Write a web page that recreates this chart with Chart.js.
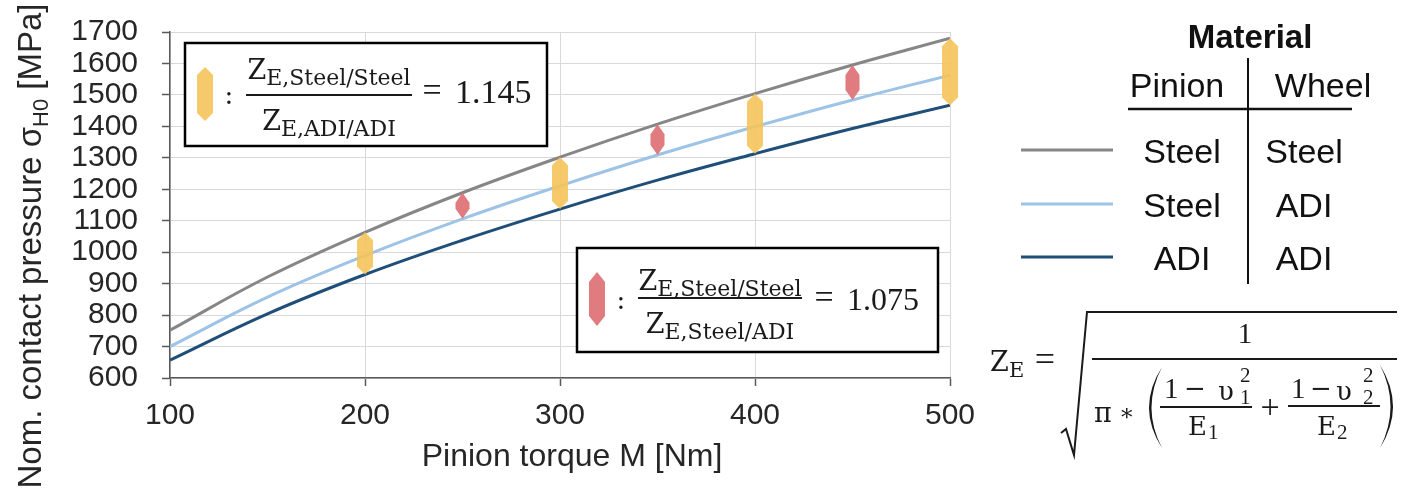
<!DOCTYPE html>
<html>
<head>
<meta charset="utf-8">
<script src="https://cdn.jsdelivr.net/npm/chart.js@4.4.0/dist/chart.umd.min.js"></script>
<style>
  html, body { margin: 0; padding: 0; background: #fff; }
  #wrap { width: 1414px; height: 493px; }
</style>
</head>
<body>
<div id="wrap"><canvas id="grafico" width="1414" height="493"></canvas></div>
<script>
// Values
const torque = [100, 150, 200, 250, 300, 350, 400, 450, 500]
const steel_steel = [752, 921, 1063, 1189, 1302, 1407, 1504, 1595, 1680]
const steel_adi = [700, 857, 989, 1106, 1211, 1309, 1399, 1484, 1563]
const adi_adi = [657, 804, 929, 1038, 1137, 1229, 1313, 1393, 1467]

// Ratio markers (yellow = 1.145, red = 1.075)
const yellow_torque = [200, 300, 400, 500]
const yellow_low = [929, 1137, 1313, 1467]
const yellow_high = [1063, 1302, 1504, 1680]
const red_torque = [250, 350, 450]
const red_low = [1106, 1309, 1484]
const red_high = [1189, 1407, 1595]

const pinion = ["Steel", "Steel", "ADI"]
const wheel = ["Steel", "ADI", "ADI"]

const line_colors = ["#868686", "#9dc3e6", "#1f4e79"]
const yellow = "rgba(245, 196, 90, 0.9)"
const red = "rgba(222, 116, 120, 0.95)"
const ink = "#1a1a1a"

const toPoints = (xs, ys) => xs.map((x, i) => ({ x: x, y: ys[i] }))
const toRanges = (xs, lo, hi) => xs.map((x, i) => ({ x: x, y: [lo[i], hi[i]] }))

const lineSet = (values, i) => ({
    type: "line",
    data: toPoints(torque, values),
    borderColor: line_colors[i],
    borderWidth: 3,
    pointRadius: 0,
    tension: 0.4,
    fill: false,
    order: 2
})

const markerSet = (xs, lo, hi, color, w, cap) => ({
    type: "bar",
    data: toRanges(xs, lo, hi),
    backgroundColor: "rgba(0,0,0,0)",
    borderWidth: 0,
    barThickness: w,
    grouped: false,
    hexColor: color,
    hexCap: cap,
    order: 1
})

// Helpers
function hexagon(ctx, x, top, bottom, w, cap, color) {
    ctx.save()
    ctx.fillStyle = color
    ctx.beginPath()
    ctx.moveTo(x, top)
    ctx.lineTo(x + w / 2, top + cap)
    ctx.lineTo(x + w / 2, bottom - cap)
    ctx.lineTo(x, bottom)
    ctx.lineTo(x - w / 2, bottom - cap)
    ctx.lineTo(x - w / 2, top + cap)
    ctx.closePath()
    ctx.fill()
    ctx.restore()
}

function txt(ctx, s, x, y, font, align) {
    ctx.font = font
    ctx.textAlign = align || "left"
    ctx.textBaseline = "alphabetic"
    ctx.fillText(s, x, y)
}

// parts: [text, font, dy]
function runs(ctx, parts, x, y, align) {
    let w = 0
    parts.forEach(p => { ctx.font = p[1]; w += ctx.measureText(p[0]).width })
    let cx = align === "center" ? x - w / 2 : (align === "right" ? x - w : x)
    ctx.textAlign = "left"
    ctx.textBaseline = "alphabetic"
    parts.forEach(p => {
        ctx.font = p[1]
        ctx.fillText(p[0], cx, y + (p[2] || 0))
        cx += ctx.measureText(p[0]).width
    })
    return w
}

function hline(ctx, x1, x2, y, w) {
    ctx.beginPath()
    ctx.lineWidth = w
    ctx.moveTo(x1, y)
    ctx.lineTo(x2, y)
    ctx.stroke()
}

const serif = (s) => s + 'px "DejaVu Serif"'
const nums = (s) => s + 'px "Liberation Serif"'
const sans = (s, b) => (b ? "bold " : "") + s + 'px "Liberation Sans"'

function ratioBox(ctx, b) {
    ctx.save()
    ctx.fillStyle = "#fff"
    ctx.fillRect(b.left, b.top, b.w, b.h)
    ctx.strokeStyle = "#000"
    ctx.lineWidth = 2.5
    ctx.strokeRect(b.left, b.top, b.w, b.h)
    hexagon(ctx, b.left + 20, b.top + 24, b.top + 78, 16, b.cap, b.color)
    ctx.fillStyle = ink
    ctx.strokeStyle = ink
    txt(ctx, ":", b.left + 44, b.top + 61, serif(26), "center")
    const cx = b.left + 61 + b.barW / 2
    runs(ctx, [["Z", serif(27)], [b.num, serif(22), 6]], cx, b.top + b.numY, "center")
    hline(ctx, b.left + 61, b.left + 61 + b.barW, b.top + b.barY, 2)
    runs(ctx, [["Z", serif(27)], [b.den, serif(22), 6]], cx, b.top + b.denY, "center")
    txt(ctx, "=", b.left + 247, b.top + b.valY - 2, nums(34), "center")
    txt(ctx, b.value, b.left + 270, b.top + b.valY, nums(b.valSize))
    ctx.restore()
}

function paren(ctx, x, top, bottom, dir) {
    const mid = (top + bottom) / 2
    ctx.beginPath()
    ctx.moveTo(x, top)
    ctx.quadraticCurveTo(x - dir * 26, mid, x, bottom)
    ctx.quadraticCurveTo(x - dir * 21, mid, x, top)
    ctx.fill()
}

function formula(ctx, ox, oy) {
    ctx.save()
    ctx.fillStyle = ink
    ctx.strokeStyle = ink
    txt(ctx, "Z", ox, oy + 12, serif(27))
    txt(ctx, "E", ox + 19, oy + 18, serif(21))
    txt(ctx, "=", ox + 55, oy + 12, nums(36), "center")
    // radical sign
    ctx.lineWidth = 2
    ctx.beginPath()
    ctx.moveTo(ox + 71, oy + 74)
    ctx.lineTo(ox + 76, oy + 70)
    ctx.lineTo(ox + 84, oy + 96)
    ctx.lineTo(ox + 97, oy - 47)
    ctx.lineTo(ox + 407, oy - 47)
    ctx.stroke()
    hline(ctx, ox + 102, ox + 407, oy, 2)
    txt(ctx, "1", ox + 255, oy - 16, nums(29), "center")
    txt(ctx, "π", ox + 104, oy + 63, serif(27))
    txt(ctx, "*", ox + 131, oy + 66, serif(23))
    paren(ctx, ox + 172, oy + 8, oy + 89, 1)
    // first inner fraction
    txt(ctx, "1", ox + 174, oy + 39, nums(29))
    txt(ctx, "\u2212", ox + 194, oy + 38, serif(26))
    txt(ctx, "υ", ox + 228, oy + 41, serif(26))
    txt(ctx, "2", ox + 250, oy + 23, nums(21))
    txt(ctx, "1", ox + 250, oy + 45, nums(21))
    hline(ctx, ox + 170, ox + 262, oy + 48, 2)
    txt(ctx, "E", ox + 198, oy + 76, serif(26))
    txt(ctx, "1", ox + 218, oy + 80, nums(21))
    txt(ctx, "+", ox + 280, oy + 59, nums(34), "center")
    // second inner fraction
    txt(ctx, "1", ox + 301, oy + 39, nums(29))
    txt(ctx, "\u2212", ox + 320, oy + 38, serif(26))
    txt(ctx, "υ", ox + 346, oy + 41, serif(26))
    txt(ctx, "2", ox + 373, oy + 23, nums(21))
    txt(ctx, "2", ox + 373, oy + 45, nums(21))
    hline(ctx, ox + 298, ox + 390, oy + 47, 2)
    txt(ctx, "E", ox + 327, oy + 76, serif(26))
    txt(ctx, "2", ox + 347, oy + 80, nums(21))
    paren(ctx, ox + 390, oy + 6, oy + 89, -1)
    ctx.restore()
}

const extras = {
    id: "extras",
    afterDatasetsDraw(chart) {
        const ctx = chart.ctx
        chart.data.datasets.forEach((ds, i) => {
            if (ds.type !== "bar") return
            chart.getDatasetMeta(i).data.forEach(el => {
                const top = Math.min(el.y, el.base)
                const bottom = Math.max(el.y, el.base)
                hexagon(ctx, el.x, top, bottom, el.width, ds.hexCap, ds.hexColor)
            })
        })
    },
    afterDraw(chart) {
        const ctx = chart.ctx
        const area = chart.chartArea
        ctx.save()
        ctx.fillStyle = "#262626"
        // axis titles
        txt(ctx, "Pinion torque M [Nm]", (area.left + area.right) / 2 + 12, 466, sans(32), "center")
        ctx.translate(41, 246)
        ctx.rotate(-Math.PI / 2)
        runs(ctx, [["Nom. contact pressure σ", sans(33)], ["H0", sans(22), 7], [" [MPa]", sans(33)]], 0, 0, "center")
        ctx.restore()

        ratioBox(ctx, {
            left: area.left + 15, top: area.top + 11, w: 362, h: 103,
            color: yellow, cap: 8, num: "E,Steel/Steel", den: "E,ADI/ADI",
            barW: 166, numY: 36, barY: 52, denY: 87, valY: 60, valSize: 34, value: "1.145"
        })
        ratioBox(ctx, {
            left: area.left + 407, top: area.top + 216, w: 361, h: 104,
            color: red, cap: 10, num: "E,Steel/Steel", den: "E,Steel/ADI",
            barW: 164, numY: 42, barY: 50, denY: 85, valY: 62, valSize: 32, value: "1.075"
        })

        // material legend table
        ctx.save()
        ctx.fillStyle = "#111"
        ctx.strokeStyle = "#111"
        txt(ctx, "Material", 1250, 48, sans(33, true), "center")
        txt(ctx, "Pinion", 1177, 97, sans(34), "center")
        txt(ctx, "Wheel", 1323, 97, sans(34), "center")
        hline(ctx, 1128, 1352, 109, 2.5)
        ctx.lineWidth = 2
        ctx.beginPath()
        ctx.moveTo(1248, 58)
        ctx.lineTo(1248, 284)
        ctx.stroke()
        const rows = [150, 204, 257]
        rows.forEach((y, i) => {
            ctx.strokeStyle = line_colors[i]
            hline(ctx, 1021, 1113, y, 3)
            txt(ctx, pinion[i], 1182, y + 13, sans(34), "center")
            txt(ctx, wheel[i], 1304, y + 13, sans(34), "center")
        })
        ctx.restore()

        formula(ctx, 990, 359)
    }
}

new Chart(document.getElementById("grafico"), {
    type: "line",
    data: {
        datasets: [
            lineSet(steel_steel, 0),
            lineSet(steel_adi, 1),
            lineSet(adi_adi, 2),
            markerSet(yellow_torque, yellow_low, yellow_high, yellow, 16, 8),
            markerSet(red_torque, red_low, red_high, red, 14, 10)
        ]
    },
    options: {
        responsive: false,
        animation: false,
        events: [],
        layout: { autoPadding: false, padding: { top: 32, right: 464, left: 0, bottom: 0 } },
        plugins: { legend: { display: false }, tooltip: { enabled: false } },
        scales: {
            x: {
                type: "linear", min: 100, max: 500, offset: false,
                ticks: { stepSize: 100, autoSkip: false, padding: 12, color: "#262626", font: { family: "Liberation Sans", size: 30 } },
                grid: { offset: false, color: "#d9d9d9", lineWidth: 1, tickLength: 8, tickColor: "#595959", tickWidth: 1.5 },
                border: { color: "#595959", width: 1.5 },
                afterFit: (s) => { s.height = 115 }
            },
            y: {
                type: "linear", min: 600, max: 1700,
                ticks: {
                    stepSize: 100, autoSkip: false, maxTicksLimit: 12, padding: 24, color: "#262626",
                    font: { family: "Liberation Sans", size: 30, lineHeight: 1 },
                    callback: (v) => String(v)
                },
                grid: { color: "#d9d9d9", lineWidth: 1, tickLength: 8, tickColor: "#595959", tickWidth: 1.5 },
                border: { color: "#595959", width: 1.5 },
                afterFit: (s) => { s.width = 170; s.paddingTop = 0; s.paddingBottom = 0 }
            }
        }
    },
    plugins: [extras]
})
</script>
</body>
</html>
